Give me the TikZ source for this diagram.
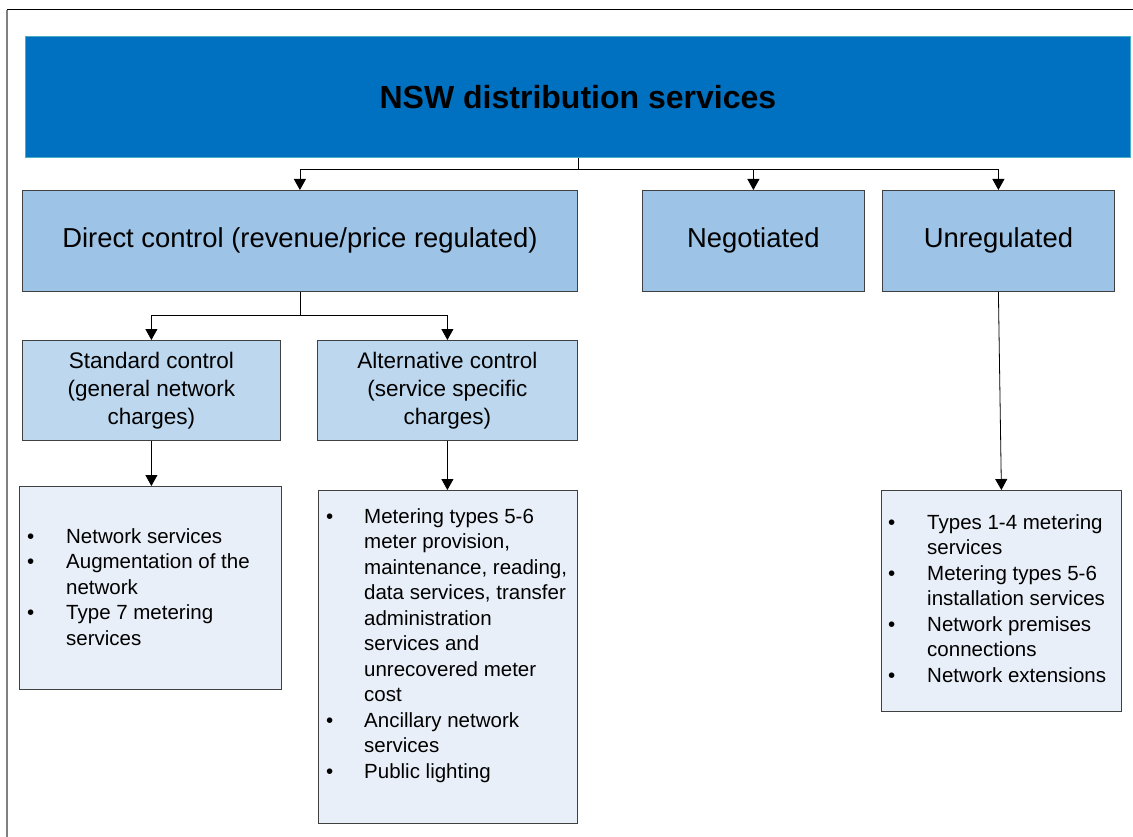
\documentclass[tikz,border=0pt]{standalone}
\usepackage{fontspec}
\setmainfont{Liberation Sans}
\usetikzlibrary{arrows.meta}
\definecolor{titleblue}{HTML}{0070C0}
\definecolor{titleedge}{HTML}{4BACC6}
\definecolor{lvltwo}{HTML}{9DC3E6}
\definecolor{lvlthree}{HTML}{BDD7EE}
\definecolor{listfill}{HTML}{E9EFF8}
\definecolor{edgegray}{HTML}{404040}
\definecolor{framegray}{HTML}{808080}
\newcommand{\bl}{\textbullet}
\begin{document}
\begin{tikzpicture}[x=1pt,y=-1pt,
  box/.style={draw=edgegray, line width=0.8pt, inner sep=0pt, anchor=north west, align=center},
  ltwo/.style={box, fill=lvltwo, font=\fontsize{27.4}{31}\selectfont},
  lthree/.style={box, fill=lvlthree, font=\fontsize{22.5}{28}\selectfont},
  listbox/.style={box, fill=listfill},
  listtext/.style={anchor=base west, inner sep=0pt, font=\fontsize{20.5}{25.5}\selectfont},
  arr/.style={line width=0.8pt, -{Triangle[width=12pt,length=11pt]}},
  link/.style={line width=0.8pt}]
\useasboundingbox (0,0) rectangle (1133,837);
% frame
\draw[line width=1pt] (7,10) -- (1133,10);
\draw[framegray, line width=1.5pt] (7,10) -- (7,837);
% title
\node[box, draw=titleedge, fill=titleblue, minimum width=1105pt, minimum height=121pt,
  font=\fontsize{32}{36}\selectfont\bfseries] (title) at (25,36) {NSW distribution services};
% level 2
\node[ltwo, minimum width=555pt, minimum height=101pt] (direct) at (22,190) {Direct control (revenue/price regulated)};
\node[ltwo, minimum width=222pt, minimum height=101pt] (neg) at (642,190) {Negotiated};
\node[ltwo, minimum width=232pt, minimum height=101pt] (unreg) at (882,190) {Unregulated};
% level 3
\node[lthree, minimum width=258pt, minimum height=100pt] (std) at (22,340) {Standard control\\(general network\\charges)};
\node[lthree, minimum width=260pt, minimum height=100pt] (alt) at (317,340) {Alternative control\\(service specific\\charges)};
% list boxes
\node[listbox, minimum width=262pt, minimum height=203pt] (stdlist) at (19,486) {};
\node[listbox, minimum width=259pt, minimum height=333pt] (altlist) at (318,490) {};
\node[listbox, minimum width=240pt, minimum height=221pt] (unrlist) at (881,490) {};
\node[listtext] (stdtext) at (27,543) {\begin{tabular}[t]{@{}p{39pt}@{}l@{}}
\bl & Network services\\
\bl & Augmentation of the\\
 & network\\
\bl & Type 7 metering\\
 & services
\end{tabular}};
\node[listtext] (alttext) at (326,523) {\begin{tabular}[t]{@{}p{38pt}@{}l@{}}
\bl & Metering types 5-6\\
 & meter provision,\\
 & maintenance, reading,\\
 & data services, transfer\\
 & administration\\
 & services and\\
 & unrecovered meter\\
 & cost\\
\bl & Ancillary network\\
 & services\\
\bl & Public lighting
\end{tabular}};
\node[listtext] (unrtext) at (888,529) {\begin{tabular}[t]{@{}p{39pt}@{}l@{}}
\bl & Types 1-4 metering\\
 & services\\
\bl & Metering types 5-6\\
 & installation services\\
\bl & Network premises\\
 & connections\\
\bl & Network extensions
\end{tabular}};
% connectors
\draw[link] (title.south) -- ++(0,12) coordinate (j1);
\draw[arr] (j1) -| (direct.north);
\draw[arr] (j1) -| (neg.north);
\draw[arr] (j1) -| (unreg.north);
\draw[link] (direct.south) -- ++(0,24) coordinate (j2);
\draw[arr] (j2) -| (std.north);
\draw[arr] (j2) -| (alt.north);
\draw[arr] (std.south) -- (std.south |- stdlist.north);
\draw[arr] (alt.south) -- (alt.south |- altlist.north);
\draw[arr] (unreg.south) -- (unrlist.north);
\end{tikzpicture}
\end{document}
